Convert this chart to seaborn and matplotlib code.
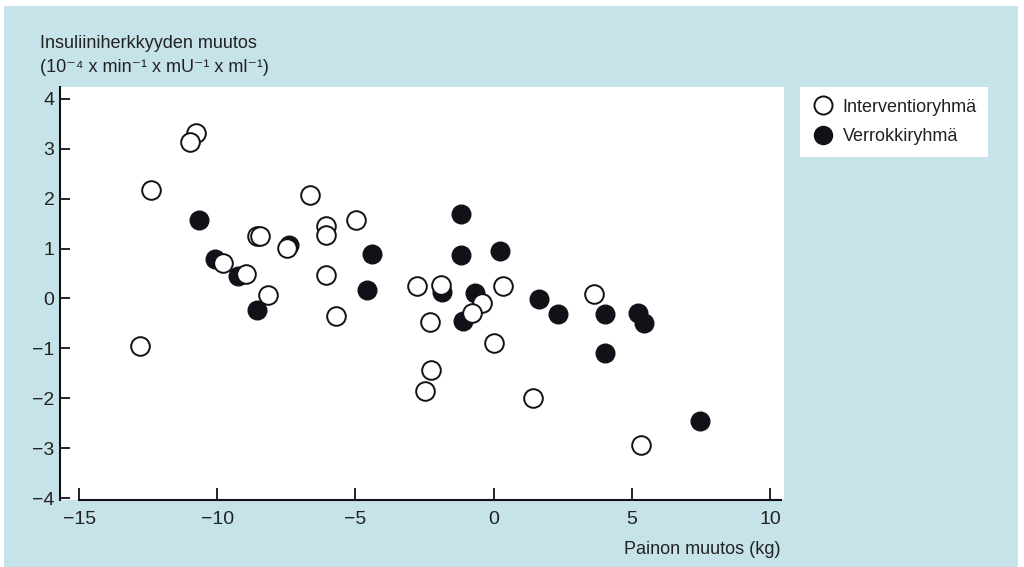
import numpy as np
import pandas as pd
import matplotlib
matplotlib.use("Agg")
import matplotlib.pyplot as plt
from matplotlib.patches import Rectangle
from matplotlib.lines import Line2D
import seaborn as sns

# Datos
# Interventioryhmä (circulos abiertos)
int_x = [-10.77, -10.98, -12.40, -6.64, -6.07, -6.07, -4.98, -8.57, -8.45, -7.49,
         -9.78, -8.97, -6.07, -8.17, -5.69, -12.79, -2.78, -1.90, -0.43, 0.33,
         -0.77, -2.29, 3.63, 0.03, -2.28, -2.48, 1.44, 5.33]
int_y = [3.31, 3.13, 2.17, 2.07, 1.46, 1.27, 1.57, 1.26, 1.26, 1.01,
         0.71, 0.49, 0.47, 0.06, -0.35, -0.96, 0.25, 0.27, -0.10, 0.26,
         -0.30, -0.47, 0.09, -0.89, -1.43, -1.85, -1.99, -2.93]

# Verrokkiryhmä (circulos rellenos)
ver_x = [-10.67, -7.39, -4.39, -10.08, -9.26, -4.58, -8.56, -1.18, -1.18, 0.23,
         -1.87, -0.67, -1.09, 1.63, 2.33, 4.05, 5.23, 5.44, 4.05, 7.47]
ver_y = [1.57, 1.08, 0.89, 0.80, 0.45, 0.17, -0.23, 1.70, 0.87, 0.96,
         0.13, 0.11, -0.45, -0.01, -0.32, -0.31, -0.30, -0.50, -1.09, -2.46]

x_ticks = [-15, -10, -5, 0, 5, 10]
y_ticks = [-4, -3, -2, -1, 0, 1, 2, 3, 4]

df_int = pd.DataFrame({"x": int_x, "y": int_y})
df_ver = pd.DataFrame({"x": ver_x, "y": ver_y})

FONDO = "#c6e3ea"
NEGRO = "#111118"
TEXTO = "#222222"
FS = 13

sns.set_style("ticks")
plt.rcParams["font.family"] = ["Liberation Sans", "DejaVu Sans"]

W, H = 1024, 567
fig = plt.figure(figsize=(W / 100, H / 100), dpi=100, facecolor="white")
fig.patches.append(Rectangle((4 / W, 0), 1014 / W, 561 / H, transform=fig.transFigure,
                             facecolor=FONDO, edgecolor="none", zorder=-10))

ax = fig.add_axes([60 / W, 1 - 500 / H, 724 / W, 413 / H])
ax.set_facecolor("white")

sns.scatterplot(data=df_ver, x="x", y="y", ax=ax, s=180, color=NEGRO,
                edgecolor=NEGRO, linewidth=1.0, zorder=3)
sns.scatterplot(data=df_int, x="x", y="y", ax=ax, s=180, color="white",
                edgecolor=NEGRO, linewidth=1.4, zorder=4)

ax.set_xlim(-15.69, 10.51)
ax.set_ylim(-4.04, 4.24)
ax.set_xticks(x_ticks)
ax.set_yticks(y_ticks)
ax.set_xlabel("")
ax.set_ylabel("")

sns.despine(ax=ax)
for s in ["left", "bottom"]:
    ax.spines[s].set_linewidth(1.5)
    ax.spines[s].set_color(NEGRO)
ax.spines["bottom"].set_bounds(-15, 10.4)

ax.tick_params(axis="y", direction="in", length=7, width=1.3, color=NEGRO,
               labelsize=FS + 1, pad=4, labelcolor=TEXTO)
ax.tick_params(axis="x", direction="in", length=9, width=1.3, color=NEGRO,
               labelsize=FS + 1, pad=8, labelcolor=TEXTO)

fig.text(40 / W, 1 - 44 / H, "Insuliiniherkkyyden muutos", fontsize=FS,
         color=TEXTO, va="center", ha="left")
fig.text(40 / W, 1 - 68 / H, "(10\u207b\u2074 x min\u207b\u00b9 x mU\u207b\u00b9 x ml\u207b\u00b9)",
         fontsize=FS, color=TEXTO, va="center", ha="left")
fig.text(781 / W, 1 - 549 / H, "Painon muutos (kg)", fontsize=FS,
         color=TEXTO, va="center", ha="right")

# Leyenda
handles = [
    Line2D([], [], marker="o", linestyle="none", markersize=13,
           markerfacecolor="white", markeredgecolor=NEGRO, markeredgewidth=1.4),
    Line2D([], [], marker="o", linestyle="none", markersize=13,
           markerfacecolor=NEGRO, markeredgecolor=NEGRO),
]
leg = fig.legend(handles, ["Interventioryhmä", "Verrokkiryhmä"],
                 loc="upper left", bbox_to_anchor=(800 / W, 1 - 87 / H),
                 borderaxespad=0, frameon=True, fancybox=False, framealpha=1,
                 edgecolor="white", facecolor="white", fontsize=FS,
                 handletextpad=0.4, labelspacing=0.7, borderpad=0.65,
                 handlelength=1.3)
leg.get_frame().set_linewidth(0)
for t in leg.get_texts():
    t.set_color(TEXTO)

plt.savefig("out.png", dpi=100, facecolor=fig.get_facecolor())
